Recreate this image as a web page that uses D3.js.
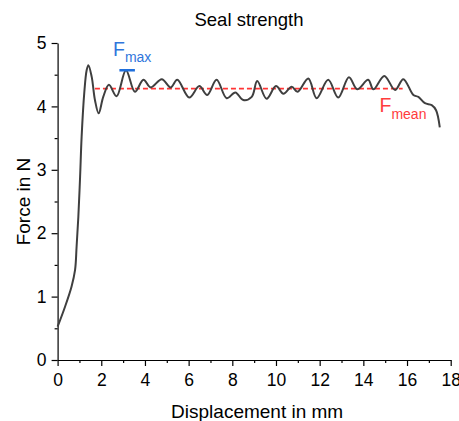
<!DOCTYPE html>
<html>
<head>
<meta charset="utf-8">
<script src="https://cdn.jsdelivr.net/npm/d3@7"></script>
<style>
  body { margin: 0; background: #fff; }
  svg { display: block; font-family: "Liberation Sans", Arial, sans-serif; }
</style>
</head>
<body>
<div id="chart"></div>
<script>
// displacement (mm) and force (N)
var displacement = [0, 0.34, 0.64, 0.80, 0.87, 0.95, 1.03, 1.10, 1.22, 1.33, 1.41, 1.56, 1.71, 1.88, 2.09, 2.35, 2.70, 3.13,
  3.54, 3.93, 4.26, 4.77, 5.18, 5.48, 6.03, 6.49, 6.85, 7.28, 7.74, 8.14, 8.50, 8.89, 9.14, 9.57, 10.0, 10.34,
  10.72, 10.99, 11.48, 11.86, 12.39, 12.85, 13.34, 13.72, 14.22, 14.46, 14.96, 15.45, 15.83, 16.29, 16.52, 16.82,
  17.13, 17.33, 17.5]
var force = [0.525, 0.84, 1.16, 1.42, 1.79, 2.26, 2.89, 3.52, 4.21, 4.57, 4.65, 4.47, 4.10, 3.89, 4.15, 4.34, 4.16, 4.57,
  4.23, 4.42, 4.30, 4.43, 4.30, 4.42, 4.14, 4.32, 4.18, 4.42, 4.13, 4.22, 4.10, 4.15, 4.40, 4.12, 4.32, 4.20,
  4.31, 4.23, 4.44, 4.13, 4.42, 4.14, 4.46, 4.27, 4.42, 4.27, 4.48, 4.26, 4.43, 4.18, 4.15, 4.05,
  4.02, 3.94, 3.67]
var xTicks = [0, 2, 4, 6, 8, 10, 12, 14, 16, 18]
var yTicks = [0, 1, 2, 3, 4, 5]
var fMean = 4.28
var meanRange = [1.71, 15.8]
var fMax = 4.57
var maxRange = [2.83, 3.54]

var width = 459, height = 421
var margin = {top: 43, right: 8.3, bottom: 61, left: 57.6}

var svg = d3.select('#chart').append('svg').attr('width', width).attr('height', height)

var x = d3.scaleLinear().domain([0, 18]).range([margin.left, width - margin.right])
var y = d3.scaleLinear().domain([0, 5]).range([height - margin.bottom, margin.top])

// minor ticks first, then major ones with labels
svg.append('g')
    .attr('transform', 'translate(0,' + y(0) + ')')
    .call(d3.axisBottom(x).tickValues(d3.range(1, 18, 2)).tickSize(3).tickFormat(''))
    .call(g => g.select('.domain').remove())
var xAxis = svg.append('g')
    .attr('transform', 'translate(0,' + y(0) + ')')
    .call(d3.axisBottom(x).tickValues(xTicks).tickSize(6).tickSizeOuter(0).tickPadding(8).tickFormat(d3.format('d')))
xAxis.selectAll('text').attr('font-size', 17.5).attr('fill', '#000').attr('font-family', 'Liberation Sans, Arial, sans-serif')

svg.append('g')
    .attr('transform', 'translate(' + x(0) + ',0)')
    .call(d3.axisLeft(y).tickValues(d3.range(0.5, 5, 1)).tickSize(3).tickFormat(''))
    .call(g => g.select('.domain').remove())
var yAxis = svg.append('g')
    .attr('transform', 'translate(' + x(0) + ',0)')
    .call(d3.axisLeft(y).tickValues(yTicks).tickSize(6).tickSizeOuter(0).tickPadding(5).tickFormat(d3.format('d')))
yAxis.selectAll('text').attr('font-size', 17.5).attr('fill', '#000').attr('font-family', 'Liberation Sans, Arial, sans-serif')

svg.selectAll('.domain, .tick line').attr('stroke', '#000').attr('stroke-width', 1.2)

// mean line
svg.append('line')
    .attr('x1', x(meanRange[0])).attr('x2', x(meanRange[1]))
    .attr('y1', y(fMean)).attr('y2', y(fMean))
    .attr('stroke', '#ff3535').attr('stroke-width', 1.6).attr('stroke-dasharray', '5,3')

// curve
var line = d3.line()
    .x((d, i) => x(displacement[i]))
    .y(d => y(d))
    .curve(d3.curveCatmullRom.alpha(0.5))
svg.append('path')
    .attr('d', line(force))
    .attr('fill', 'none')
    .attr('stroke', '#3f3f3f')
    .attr('stroke-width', 2)

// max marker
svg.append('line')
    .attr('x1', x(maxRange[0])).attr('x2', x(maxRange[1]))
    .attr('y1', y(fMax)).attr('y2', y(fMax))
    .attr('stroke', '#1f6fdc').attr('stroke-width', 2.5)

var maxLabel = svg.append('text').attr('x', 113).attr('y', 55.7).attr('fill', '#2f76dc').attr('font-size', 19.5)
maxLabel.append('tspan').text('F')
maxLabel.append('tspan').attr('dy', 6.5).attr('font-size', 14).text('max')

var meanLabel = svg.append('text').attr('x', 379.5).attr('y', 112.3).attr('fill', '#ff3c3c').attr('font-size', 19.5)
meanLabel.append('tspan').text('F')
meanLabel.append('tspan').attr('dy', 6.3).attr('font-size', 14).text('mean')

// titles
svg.append('text').attr('x', 249).attr('y', 26).attr('text-anchor', 'middle')
    .attr('font-size', 18.5).text('Seal strength')
svg.append('text').attr('x', (x(0) + x(18)) / 2 + 3).attr('y', 417.5).attr('text-anchor', 'middle')
    .attr('font-size', 19).text('Displacement in mm')
svg.append('text').attr('transform', 'translate(30,' + (y(2.5)) + ') rotate(-90)').attr('text-anchor', 'middle')
    .attr('font-size', 19).text('Force in N')
</script>
</body>
</html>
